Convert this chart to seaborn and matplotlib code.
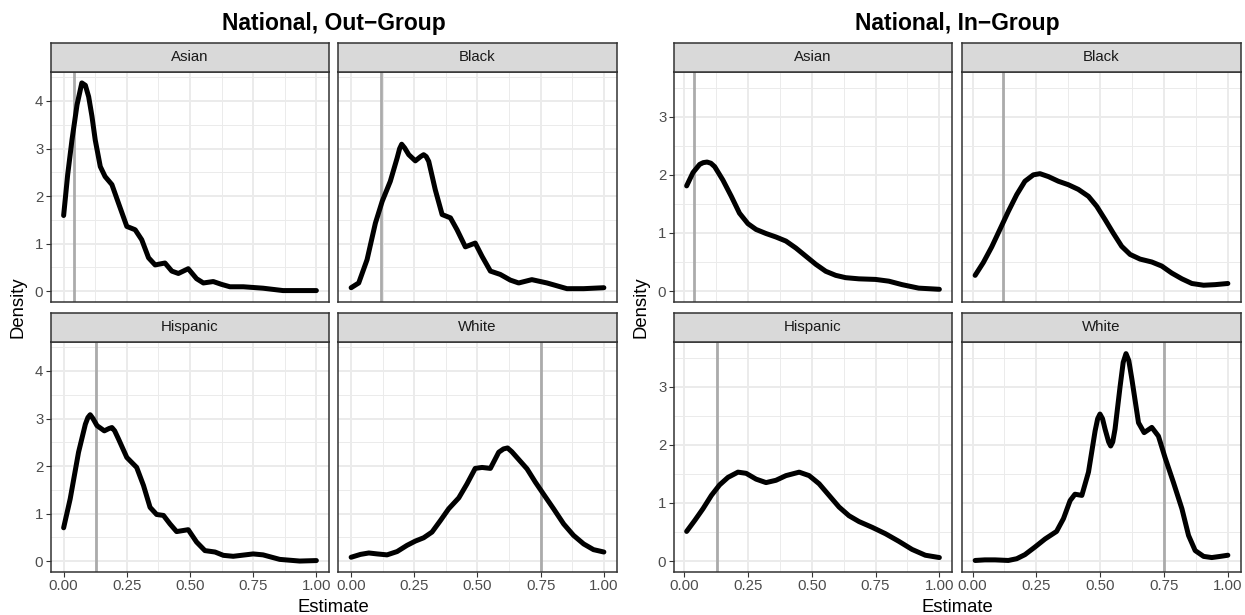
import numpy as np
import pandas as pd
import matplotlib
matplotlib.use("Agg")
import matplotlib.pyplot as plt
import seaborn as sns

# --------------------
# Data (density curves)
# --------------------
races = ["Asian", "Black", "Hispanic", "White"]
census_share = [0.04, 0.12, 0.13, 0.75]

# National, Out-Group
out_asian_x = [0.0, 0.016, 0.033, 0.053, 0.072, 0.086, 0.099, 0.112, 0.125, 0.145, 0.164, 0.191,
               0.217, 0.25, 0.283, 0.309, 0.336, 0.362, 0.401, 0.428, 0.454, 0.493, 0.526,
               0.553, 0.592, 0.625, 0.658, 0.711, 0.789, 0.868, 1.0]
out_asian_y = [1.59, 2.45, 3.18, 3.92, 4.38, 4.33, 4.09, 3.68, 3.18, 2.62, 2.41, 2.24,
               1.85, 1.36, 1.29, 1.08, 0.70, 0.55, 0.59, 0.42, 0.37, 0.47, 0.26,
               0.17, 0.20, 0.14, 0.09, 0.09, 0.06, 0.01, 0.01]

out_black_x = [0.0, 0.03, 0.063, 0.096, 0.123, 0.155, 0.182, 0.192, 0.2, 0.212, 0.228, 0.254,
               0.275, 0.287, 0.297, 0.307, 0.333, 0.36, 0.393, 0.419, 0.452, 0.491, 0.518,
               0.551, 0.59, 0.63, 0.663, 0.715, 0.775, 0.854, 0.92, 1.0]
out_black_y = [0.07, 0.17, 0.66, 1.43, 1.89, 2.31, 2.80, 3.00, 3.09, 3.01, 2.87, 2.74,
               2.83, 2.87, 2.83, 2.73, 2.13, 1.61, 1.54, 1.29, 0.93, 1.01, 0.73,
               0.42, 0.35, 0.23, 0.17, 0.24, 0.17, 0.05, 0.05, 0.07]

out_hisp_x = [0.0, 0.026, 0.059, 0.086, 0.096, 0.105, 0.116, 0.132, 0.161, 0.18, 0.191, 0.202,
              0.217, 0.25, 0.289, 0.316, 0.342, 0.368, 0.395, 0.421, 0.447, 0.493, 0.526,
              0.559, 0.599, 0.632, 0.671, 0.75, 0.789, 0.855, 0.934, 1.0]
out_hisp_y = [0.70, 1.31, 2.29, 2.88, 3.02, 3.08, 3.00, 2.85, 2.74, 2.79, 2.81, 2.74,
              2.57, 2.18, 1.97, 1.59, 1.13, 0.98, 0.96, 0.78, 0.62, 0.66, 0.40,
              0.22, 0.19, 0.12, 0.10, 0.15, 0.13, 0.035, 0.0, 0.01]

out_white_x = [0.0, 0.037, 0.07, 0.103, 0.142, 0.182, 0.221, 0.254, 0.287, 0.32, 0.353, 0.386,
               0.426, 0.458, 0.491, 0.518, 0.551, 0.584, 0.603, 0.619, 0.636, 0.656, 0.696,
               0.729, 0.761, 0.801, 0.841, 0.88, 0.92, 0.959, 1.0]
out_white_y = [0.08, 0.14, 0.17, 0.15, 0.13, 0.20, 0.33, 0.42, 0.49, 0.61, 0.85, 1.10,
               1.33, 1.62, 1.95, 1.97, 1.95, 2.29, 2.36, 2.38, 2.30, 2.18, 1.94,
               1.66, 1.41, 1.10, 0.78, 0.54, 0.36, 0.24, 0.19]

# National, In-Group
in_asian_x = [0.01, 0.035, 0.061, 0.075, 0.09, 0.105, 0.12, 0.152, 0.185, 0.217, 0.25, 0.282,
              0.321, 0.36, 0.399, 0.438, 0.477, 0.516, 0.555, 0.594, 0.633, 0.685, 0.75,
              0.802, 0.854, 0.919, 1.0]
in_asian_y = [1.81, 2.04, 2.18, 2.21, 2.22, 2.20, 2.14, 1.91, 1.63, 1.34, 1.16, 1.06,
              0.99, 0.93, 0.86, 0.74, 0.60, 0.46, 0.34, 0.27, 0.23, 0.21, 0.20,
              0.17, 0.11, 0.05, 0.03]

in_black_x = [0.01, 0.042, 0.075, 0.107, 0.14, 0.173, 0.205, 0.238, 0.264, 0.297, 0.336, 0.375,
              0.414, 0.454, 0.486, 0.519, 0.552, 0.584, 0.617, 0.656, 0.702, 0.741, 0.78,
              0.82, 0.859, 0.905, 0.95, 1.0]
in_black_y = [0.27, 0.49, 0.76, 1.06, 1.37, 1.66, 1.89, 2.00, 2.02, 1.97, 1.89, 1.83,
              1.75, 1.63, 1.46, 1.23, 0.99, 0.77, 0.63, 0.55, 0.50, 0.43, 0.31,
              0.21, 0.13, 0.10, 0.11, 0.13]

in_hisp_x = [0.01, 0.042, 0.074, 0.107, 0.139, 0.172, 0.211, 0.243, 0.282, 0.321, 0.36, 0.399,
             0.451, 0.49, 0.529, 0.568, 0.607, 0.646, 0.685, 0.737, 0.789, 0.841, 0.893,
             0.945, 1.0]
in_hisp_y = [0.51, 0.70, 0.90, 1.13, 1.31, 1.44, 1.53, 1.51, 1.41, 1.35, 1.39, 1.47,
             1.53, 1.47, 1.33, 1.13, 0.93, 0.78, 0.68, 0.58, 0.47, 0.34, 0.20,
             0.10, 0.06]

in_white_x = [0.01, 0.048, 0.088, 0.14, 0.173, 0.205, 0.244, 0.284, 0.329, 0.356, 0.382, 0.401,
              0.428, 0.454, 0.48, 0.49, 0.499, 0.509, 0.519, 0.533, 0.541, 0.549, 0.558,
              0.578, 0.59, 0.601, 0.612, 0.624, 0.65, 0.672, 0.702, 0.728, 0.754, 0.787,
              0.82, 0.846, 0.872, 0.905, 0.937, 0.97, 1.0]
in_white_y = [0.01, 0.02, 0.02, 0.01, 0.04, 0.11, 0.24, 0.38, 0.51, 0.73, 1.04, 1.15,
              1.13, 1.53, 2.24, 2.45, 2.53, 2.45, 2.27, 2.05, 1.98, 2.05, 2.27,
              3.01, 3.42, 3.57, 3.45, 3.13, 2.38, 2.21, 2.30, 2.15, 1.78, 1.35,
              0.90, 0.44, 0.18, 0.08, 0.06, 0.08, 0.10]

groups = {
    "National, Out\u2212Group": [(out_asian_x, out_asian_y), (out_black_x, out_black_y),
                                 (out_hisp_x, out_hisp_y), (out_white_x, out_white_y)],
    "National, In\u2212Group": [(in_asian_x, in_asian_y), (in_black_x, in_black_y),
                                (in_hisp_x, in_hisp_y), (in_white_x, in_white_y)],
}

rows = []
for g, curves in groups.items():
    for race, (xs, ys) in zip(races, curves):
        for xv, yv in zip(xs, ys):
            rows.append({"group": g, "race": race, "Estimate": xv, "Density": yv})
data = pd.DataFrame(rows)

# --------------------
# Style
# --------------------
sns.set_theme(style="white")
plt.rcParams["font.family"] = ["Liberation Sans", "DejaVu Sans"]

W, H = 1245, 615
fig = plt.figure(figsize=(W / 100, H / 100), dpi=100)

def box(x0, y0, w, h):
    return [x0 / W, 1 - (y0 + h) / H, w / W, h / H]

panel_w = 278
panel_h = 229.5
strip_h = 29.5
col_left = {0: [51, 338.5], 1: [674, 962.5]}
row_top = [72, 342]
xlims = [(-0.05, 1.05), (-0.0395, 1.0495)]
ylims = [(-0.22, 4.61), (-0.18, 3.77)]
yticks = [[0, 1, 2, 3, 4], [0, 1, 2, 3]]
edge = "#333333"

for gi, gname in enumerate(groups):
    gdata = data[data["group"] == gname]
    for ri, race in enumerate(races):
        r, c = divmod(ri, 2)
        x0 = col_left[gi][c]
        ax = fig.add_axes(box(x0, row_top[r], panel_w, panel_h))
        sub = gdata[gdata["race"] == race]
        ax.axvline(census_share[ri], color="#ABABAB", lw=2.0, zorder=2)
        sns.lineplot(data=sub, x="Estimate", y="Density", ax=ax, color="black",
                     lw=3.6, sort=False, zorder=3)
        ax.lines[-1].set_solid_joinstyle("round")
        ax.lines[-1].set_solid_capstyle("round")
        ax.set_xlim(*xlims[gi])
        ax.set_ylim(*ylims[gi])
        ax.set_xticks([0, 0.25, 0.5, 0.75, 1.0])
        ax.set_xticks(np.arange(0.125, 1.0, 0.25), minor=True)
        ax.set_yticks(yticks[gi])
        ax.set_yticks(np.arange(0.5, yticks[gi][-1] + 0.6, 1.0), minor=True)
        ax.grid(which="major", color="#EBEBEB", lw=1.4, zorder=0)
        ax.grid(which="minor", color="#EBEBEB", lw=0.7, zorder=0)
        ax.set_axisbelow(True)
        ax.tick_params(which="major", length=3.5, width=0.8, color=edge,
                       labelsize=10.8, labelcolor="#4D4D4D", pad=2,
                       bottom=(r == 1), left=(c == 0),
                       labelbottom=(r == 1), labelleft=(c == 0))
        ax.tick_params(which="minor", length=0)
        if r == 1:
            ax.set_xticklabels(["0.00", "0.25", "0.50", "0.75", "1.00"])
        ax.set_xlabel("")
        ax.set_ylabel("")
        for s in ax.spines.values():
            s.set_color(edge)
            s.set_linewidth(1.1)

        # facet strip
        st = fig.add_axes(box(x0, row_top[r] - strip_h, panel_w, strip_h))
        st.set_facecolor("#D9D9D9")
        st.set_xticks([])
        st.set_yticks([])
        for s in st.spines.values():
            s.set_color(edge)
            s.set_linewidth(1.1)
        st.text(0.5, 0.5, race, ha="center", va="center", fontsize=10.8,
                color="#1A1A1A", transform=st.transAxes)

    cx = (col_left[gi][0] + col_left[gi][1] + panel_w) / 2
    fig.text(cx / W, 1 - 30 / H, gname, ha="center", va="baseline",
             fontsize=16.5, fontweight="bold", color="black")
    fig.text(cx / W, 1 - 612 / H, "Estimate", ha="center", va="baseline",
             fontsize=13.3, color="black")
    lx = 18 if gi == 0 else 641
    fig.text(lx / W, 1 - 307 / H, "Density", ha="center", va="center",
             rotation=90, fontsize=13.3, color="black")

fig.savefig("out.png", dpi=100)
